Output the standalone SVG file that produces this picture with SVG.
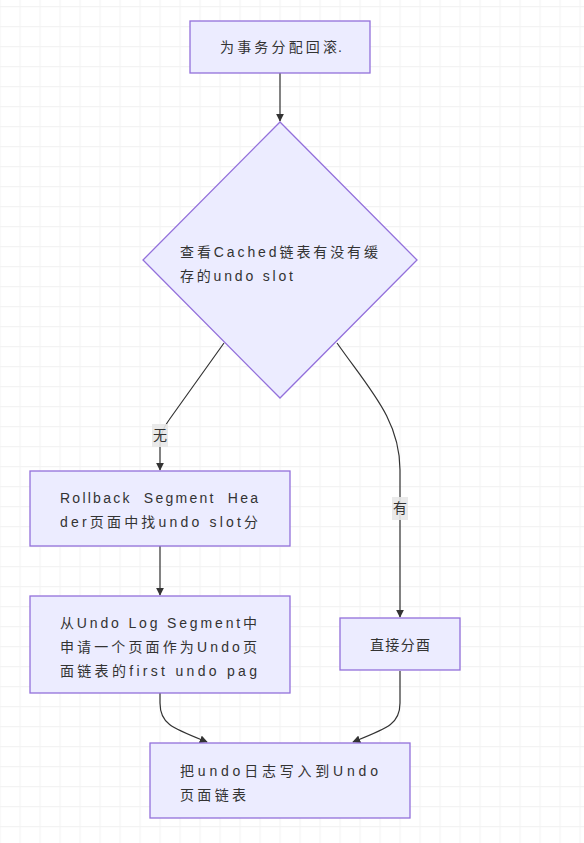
<svg xmlns="http://www.w3.org/2000/svg" width="584" height="843" viewBox="0 0 584 843">
<style>
.node rect,.node polygon{fill:#ECECFF;stroke:#9370DB;stroke-width:1.3}
.t{font-family:"Liberation Sans","Noto Sans CJK SC",sans-serif;font-size:14px;fill:#333}
.edge{fill:none;stroke:#333;stroke-width:1.2}
.lbl{fill:#e8e8e8;opacity:0.9}
</style>
<defs>
<pattern id="grid" patternUnits="userSpaceOnUse" x="-0.5" y="6" width="20" height="20">
<path d="M0,0.5 H20 M0.5,0 V20" fill="none" stroke="#f3f3f3" stroke-width="1.3"/>
</pattern>
<marker id="ah" viewBox="0 0 10 10" refX="9" refY="5" markerWidth="8" markerHeight="8" markerUnits="userSpaceOnUse" orient="auto">
<path d="M0,0 L10,5 L0,10 z" fill="#333"/>
</marker>
</defs>
<rect width="584" height="843" fill="#ffffff"/>
<rect width="584" height="843" fill="url(#grid)"/>

<g id="edges">
<path class="edge" d="M280,73 L280,121" marker-end="url(#ah)"/>
<path class="edge" d="M224,343 L169,420 Q160,432 160,445 L160,470" marker-end="url(#ah)"/>
<path class="edge" d="M337,343 C370,390 400,420 400,470 L400,617" marker-end="url(#ah)"/>
<path class="edge" d="M160,546 L160,595" marker-end="url(#ah)"/>
<path class="edge" d="M160,693 L160,703 C160,724 172,728 207,742" marker-end="url(#ah)"/>
<path class="edge" d="M400,671 L400,703 C400,724 388,728 353,742" marker-end="url(#ah)"/>
<rect class="lbl" x="152" y="424" width="16" height="23"/>
<text class="t" x="160" y="440" text-anchor="middle">无</text>
<rect class="lbl" x="392" y="497" width="16" height="23"/>
<text class="t" x="400" y="513" text-anchor="middle">有</text>
</g>

<g id="n1" class="node">
<rect x="190" y="21" width="180" height="52"/>
<text class="t" x="220" y="52" textLength="117" lengthAdjust="spacing">为事务分配回滚</text>
<text class="t" x="338" y="52" font-size="5" fill="#777">.</text>
</g>

<g id="n2" class="node">
<polygon points="280,122 417,260 280,398 143,260"/>
<text class="t" x="180" y="257" textLength="198" lengthAdjust="spacing">查看Cached链表有没有缓</text>
<text class="t" x="180" y="281" textLength="113" lengthAdjust="spacing">存的undo slot</text>
</g>

<g id="n3" class="node">
<rect x="30" y="471" width="260" height="75"/>
<text class="t" x="60" y="503" textLength="198" lengthAdjust="spacing" style="white-space:pre">Rollback  Segment  Hea</text>
<text class="t" x="60" y="527" textLength="198" lengthAdjust="spacing">der页面中找undo slot分</text>
</g>

<g id="n4" class="node">
<rect x="30" y="596" width="260" height="97"/>
<text class="t" x="60" y="628" textLength="197" lengthAdjust="spacing">从Undo Log Segment中</text>
<text class="t" x="60" y="652" textLength="197" lengthAdjust="spacing">申请一个页面作为Undo页</text>
<text class="t" x="60" y="676" textLength="197" lengthAdjust="spacing">面链表的first undo pag</text>
</g>

<g id="n5" class="node">
<rect x="340" y="618" width="120" height="52"/>
<text class="t" x="370" y="650" textLength="60" lengthAdjust="spacing">直接分酉</text>
</g>

<g id="n6" class="node">
<rect x="150" y="743" width="260" height="75"/>
<text class="t" x="180" y="776" textLength="198" lengthAdjust="spacing">把undo日志写入到Undo</text>
<text class="t" x="180" y="800" textLength="66" lengthAdjust="spacing">页面链表</text>
</g>
</svg>
